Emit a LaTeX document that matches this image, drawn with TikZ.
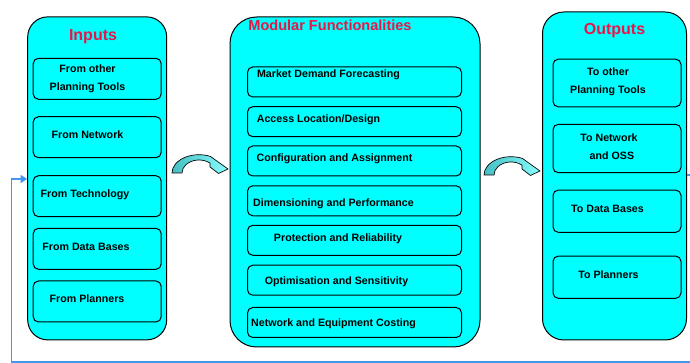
\documentclass[tikz,border=0pt]{standalone}
\usepackage{fontspec}
\setmainfont{Liberation Sans}
\usetikzlibrary{arrows.meta}
\definecolor{boxcyan}{RGB}{0,255,255}
\definecolor{ttlred}{RGB}{232,22,72}
\definecolor{fbblue}{RGB}{66,150,240}
\definecolor{arrdark}{RGB}{70,190,195}
\definecolor{arrlight}{RGB}{135,252,252}
\tikzset{
	panel/.style={rectangle,draw=black,fill=boxcyan,line width=0.75pt},
	item/.style={rectangle,draw=black,fill=boxcyan,rounded corners=4pt,line width=0.75pt,minimum width=96pt},
	mitem/.style={item,minimum width=160.5pt,minimum height=22.5pt},
	ttl/.style={text=ttlred,font=\fontsize{12}{14}\selectfont\bfseries,inner sep=0pt,text height=8.6pt,text depth=0pt},
	lbl/.style={font=\fontsize{8}{13.5}\selectfont\bfseries,inner sep=0pt,text height=5.73pt,text depth=0pt},
	lbltwo/.style={font=\fontsize{8}{13.5}\selectfont\bfseries,inner sep=0pt,align=center,anchor=north},
	fback/.style={draw=fbblue,line width=1.3pt,-{Triangle[length=5pt,width=6pt]}},
	swoosh/.style={draw=black,line width=0.5pt,left color=arrdark,right color=arrlight}
}
\begin{document}
\begin{tikzpicture}[x=0.75pt,y=-0.75pt]
	\useasboundingbox (0,0) rectangle (690,363);
	% three panels
	\node[panel,rounded corners=15pt,minimum width=104.25pt,minimum height=242.25pt](inp) at (97.2,178.4) {};
	\node[panel,rounded corners=20pt,minimum width=187.5pt,minimum height=247.5pt](mod) at (355,182) {};
	\node[panel,rounded corners=16pt,minimum width=108pt,minimum height=246pt](outp) at (614.5,176) {};
	\node[ttl](tin) at (93,34.8) {Inputs};
	\node[ttl,font=\fontsize{10.9}{13}\selectfont\bfseries,text height=7.8pt](tmod) at (330,25.2) {Modular Functionalities};
	\node[ttl](tout) at (614.5,28.5) {Outputs};
	% inputs
	\node[item,minimum height=30.75pt](i1) at (97.2,78.8) {};
	\node[item,minimum height=30.75pt](i2) at (97.2,137.2) {};
	\node[item,minimum height=30.75pt](i3) at (97.2,196.2) {};
	\node[item,minimum height=30.75pt](i4) at (97.2,248.8) {};
	\node[item,minimum height=30.75pt](i5) at (97.2,301.5) {};
	\node[lbltwo](li1) at (87.5,64.2) {From other\\Planning Tools};
	\node[lbl](li2) at (87.5,135) {From Network};
	\node[lbl](li3) at (85,194) {From Technology};
	\node[lbl](li4) at (86,247) {From Data Bases};
	\node[lbl](li5) at (87,299) {From Planners};
	% modular functionalities
	\node[mitem](m1) at (354.5,82) {};
	\node[mitem](m2) at (354.5,121.7) {};
	\node[mitem](m3) at (354.5,161) {};
	\node[mitem](m4) at (354.5,200.8) {};
	\node[mitem](m5) at (354.5,240.3) {};
	\node[mitem](m6) at (354.5,280.2) {};
	\node[mitem](m7) at (354.5,322.5) {};
	\node[lbl](lm1) at (328.5,74) {Market Demand Forecasting};
	\node[lbl](lm2) at (318.5,119) {Access Location/Design};
	\node[lbl](lm3) at (334.5,158) {Configuration and Assignment};
	\node[lbl](lm4) at (333.5,202.5) {Dimensioning and Performance};
	\node[lbl](lm5) at (338,238) {Protection and Reliability};
	\node[lbl](lm6) at (336.5,281) {Optimisation and Sensitivity};
	\node[lbl](lm7) at (333.5,323) {Network and Equipment Costing};
	% outputs
	\node[item,minimum height=35.75pt](o1) at (617,83) {};
	\node[item,minimum height=36.3pt](o2) at (617,148.5) {};
	\node[item,minimum height=31.7pt](o3) at (617,211.2) {};
	\node[item,minimum height=31.7pt](o4) at (617,277.2) {};
	\node[lbltwo](lo1) at (608,67.2) {To other\\Planning Tools};
	\node[lbltwo](lo2) at (609,133.2) {To Network\\\ \ and OSS};
	\node[lbl](lo3) at (607.5,209) {To Data Bases};
	\node[lbl](lo4) at (608.5,275) {To Planners};
	% curved arrows between panels
	\foreach \cx/\cy in {199/173,511/175}
		\draw[swoosh,shift={(\cx,\cy)},yscale=-1] (-27,0) arc[start angle=180,end angle=65,x radius=27,y radius=18.3] -- (29,4) -- (19.5,-0.5) -- (11,6) -- (10.93,9.96) arc[start angle=50,end angle=180,x radius=17,y radius=13] -- cycle;
	% feedback loop
	\coordinate (fbr) at (730,362);
	\coordinate (fbl) at (11.5,362);
	\draw[fback] (outp.east |- 0,175) -| (fbr) -- (fbl) |- (inp.west |- 0,179);
\end{tikzpicture}
\end{document}
